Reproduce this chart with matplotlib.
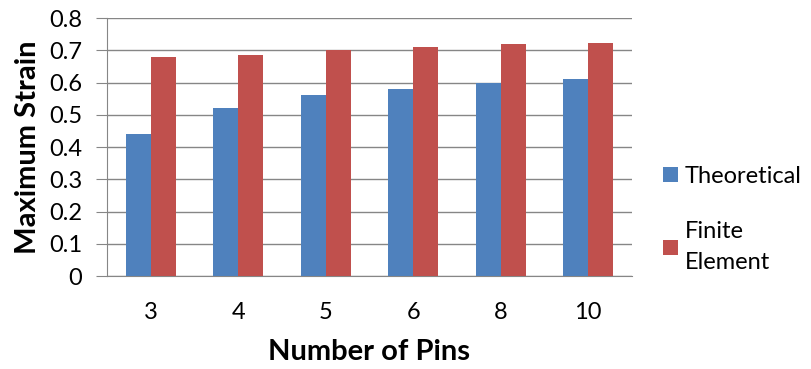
import matplotlib.pyplot as plt
import numpy as np

plt.rcParams['font.family'] = ['Lato', 'DejaVu Sans']

pins = ["3", "4", "5", "6", "8", "10"]
theoretical = [0.44, 0.52, 0.56, 0.58, 0.60, 0.61]
finite_element = [0.68, 0.687, 0.70, 0.71, 0.72, 0.723]

fig = plt.figure(figsize=(8.12, 3.69), dpi=100)
ax = fig.add_axes([0.132, 0.252, 0.646, 0.699])

x = np.arange(len(pins))
w = 0.286
ax.bar(x - w / 2, theoretical, w, color="#4F81BD", label="Theoretical", zorder=3)
ax.bar(x + w / 2, finite_element, w, color="#C0504D", label="Finite\nElement", zorder=3)

ax.set_xlim(-0.5, len(pins) - 0.5)
ax.set_ylim(0, 0.8)
ax.set_yticks(np.arange(0, 0.81, 0.1))
ax.set_yticklabels(["0"] + [f"{v:.1f}" for v in np.arange(0.1, 0.81, 0.1)])
ax.set_xticks(x)
ax.set_xticklabels(pins)

ax.yaxis.grid(True, color="#868686", linewidth=1.0, zorder=0)
for side in ["top", "right"]:
    ax.spines[side].set_visible(False)
ax.spines["left"].set_color("#868686")
ax.spines["bottom"].set_color("#868686")
ax.tick_params(axis="y", length=8, color="#868686", labelsize=17, pad=10)
ax.tick_params(axis="x", length=0, labelsize=17, pad=19)

ax.set_ylabel("Maximum Strain", fontsize=21, fontweight="bold", labelpad=6)
ax.set_xlabel("Number of Pins", fontsize=21, fontweight="bold", labelpad=11)

leg = ax.legend(loc="center left", bbox_to_anchor=(1.02, 0.22), frameon=False,
                fontsize=17, handlelength=0.6, handleheight=0.6, handletextpad=0.3,
                labelspacing=1.45)
for t in leg.get_texts():
    t.set_linespacing(1.6)

fig.savefig("out.png", dpi=100)
